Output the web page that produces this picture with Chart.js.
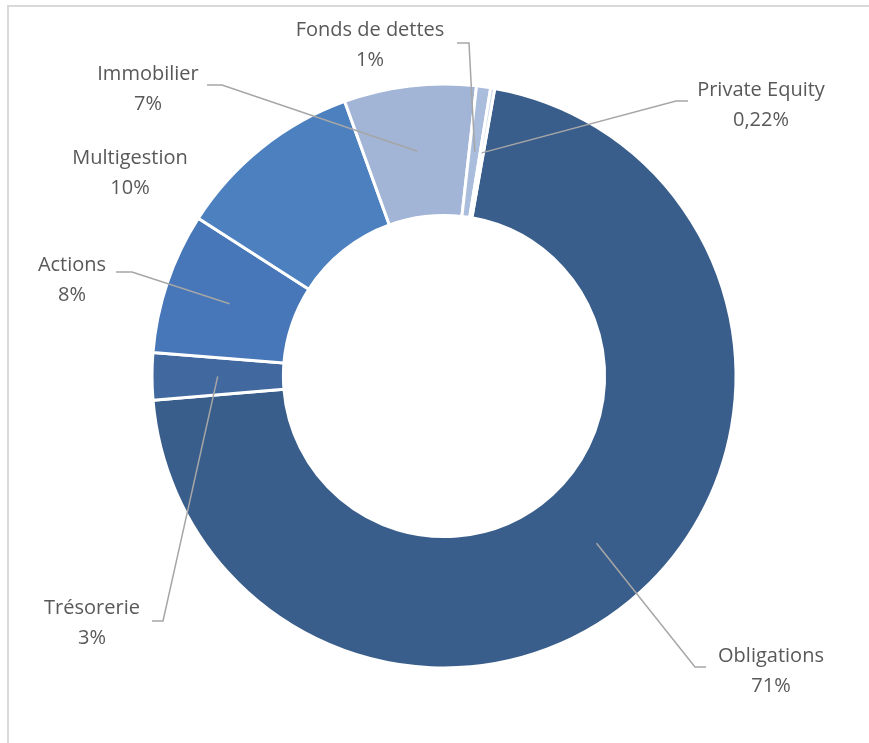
<!DOCTYPE html>
<html>
<head>
<meta charset="utf-8">
<script src="https://cdn.jsdelivr.net/npm/chart.js@4/dist/chart.umd.min.js"></script>
<style>
    body { margin: 0; background: #fff; }
    #wrap { position: relative; width: 869px; height: 743px; overflow: hidden; }
    #cadre { position: absolute; left: 7px; top: 5px; width: 1000px; height: 1000px; border: 2px solid #d9d9d9; }
    #graph { position: absolute; left: 0; top: 0; }
</style>
</head>
<body>
<div id="wrap">
    <div id="cadre"></div>
    <canvas id="graph" width="869" height="743"></canvas>
</div>
<script>
const categories = ['Obligations', 'Trésorerie', 'Actions', 'Multigestion', 'Immobilier', 'Fonds de dettes', 'Private Equity'];
const valeurs = [70.9, 2.6, 7.8, 10.4, 7.3, 0.78, 0.22];
const etiquettes = ['71%', '3%', '8%', '10%', '7%', '1%', '0,22%'];
const couleurs = ['#3a5e8b', '#41699f', '#4777b8', '#4c80bf', '#a2b5d6', '#aabddc', '#c9d5ea'];

// placement des étiquettes (centre du texte) et coudes des lignes de rappel
const placement = [
    { x: 771, y: 656, ligne: [[706, 667], [695, 667]] },
    { x: 92, y: 608, ligne: [[152, 621], [163, 621]] },
    { x: 72, y: 265, ligne: [[116, 272], [132, 272]] },
    { x: 130, y: 158, ligne: null },
    { x: 148, y: 74, ligne: [[207, 85], [222, 85]] },
    { x: 370, y: 30, ligne: [[457, 43], [469, 43]] },
    { x: 761, y: 90, ligne: [[688, 101], [676, 101]] }
];

const etiquettesPlugin = {
    id: 'etiquettes',
    afterDatasetsDraw(chart) {
        const ctx = chart.ctx;
        const arcs = chart.getDatasetMeta(0).data;
        ctx.save();
        arcs.forEach((arc, i) => {
            const p = placement[i];
            if (p.ligne) {
                const fin = arc.tooltipPosition();
                ctx.beginPath();
                ctx.strokeStyle = '#a6a6a6';
                ctx.lineWidth = 1.5;
                ctx.moveTo(p.ligne[0][0], p.ligne[0][1]);
                p.ligne.slice(1).forEach(pt => ctx.lineTo(pt[0], pt[1]));
                ctx.lineTo(fin.x, fin.y);
                ctx.stroke();
            }
            ctx.fillStyle = '#595959';
            ctx.font = '20px "Open Sans"';
            ctx.textAlign = 'center';
            ctx.textBaseline = 'middle';
            ctx.fillText(categories[i], p.x, p.y);
            ctx.fillText(etiquettes[i], p.x, p.y + 30);
        });
        ctx.restore();
    }
};

new Chart(document.getElementById('graph'), {
    type: 'doughnut',
    data: {
        labels: categories,
        datasets: [{
            data: valeurs,
            backgroundColor: couleurs,
            borderColor: '#ffffff',
            borderWidth: 3
        }]
    },
    options: {
        responsive: false,
        animation: false,
        rotation: 10,
        cutout: '55%',
        layout: { padding: { left: 150.5, right: 131.5, top: 82.5, bottom: 73.5 } },
        plugins: {
            legend: { display: false },
            tooltip: { enabled: false }
        }
    },
    plugins: [etiquettesPlugin]
});
</script>
</body>
</html>
